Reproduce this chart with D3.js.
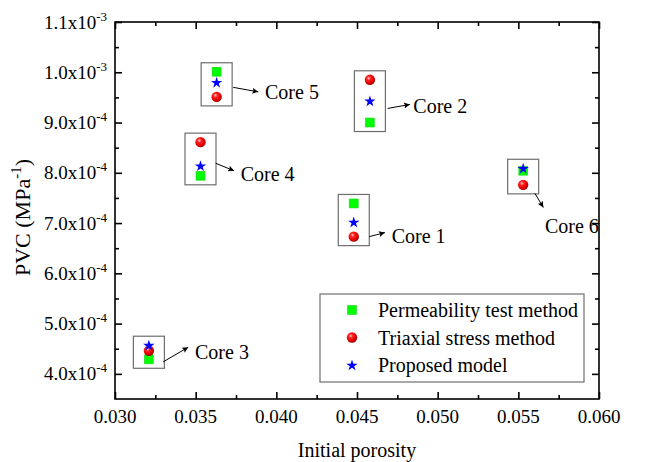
<!DOCTYPE html>
<html>
<head>
<meta charset="utf-8">
<script src="https://cdn.jsdelivr.net/npm/d3@7"></script>
<style>
  body { margin: 0; background: #fff; }
  svg { display: block; }
  svg text { font-family: 'Liberation Serif', 'DejaVu Serif', 'Times New Roman', serif; fill: #000; }
</style>
</head>
<body>
<div id="chart"></div>
<script>
// values
let cores = ["Core 1", "Core 2", "Core 3", "Core 4", "Core 5", "Core 6"];
let porosity = [0.0448, 0.0458, 0.0321, 0.0353, 0.0363, 0.0553];
let permeabilityPVC = [7.39e-4, 9.00e-4, 4.29e-4, 7.94e-4, 1.001e-3, 8.04e-4];
let triaxialPVC = [6.73e-4, 9.85e-4, 4.46e-4, 8.61e-4, 9.51e-4, 7.76e-4];
let modelPVC = [7.02e-4, 9.43e-4, 4.57e-4, 8.14e-4, 9.80e-4, 8.09e-4];

// arrow start / end and label anchor, in data units
let arrowFrom = [[0.04576, 6.73e-4], [0.04690, 9.28e-4], [0.03299, 4.24e-4], [0.03624, 8.19e-4], [0.03733, 9.70e-4], [0.05603, 7.59e-4]];
let arrowTo = [[0.04673, 6.81e-4], [0.04828, 9.36e-4], [0.03454, 4.53e-4], [0.03738, 8.04e-4], [0.03888, 9.61e-4], [0.05655, 7.31e-4]];
let labelAt = [[0.04715, 6.75e-4], [0.04849, 9.32e-4], [0.03496, 4.44e-4], [0.03779, 7.98e-4], [0.03930, 9.61e-4], [0.05665, 6.94e-4]];

let seriesNames = ["Permeability test method", "Triaxial stress method", "Proposed model"];
let xTicks = [0.030, 0.035, 0.040, 0.045, 0.050, 0.055, 0.060];
let xMinor = [0.0325, 0.0375, 0.0425, 0.0475, 0.0525, 0.0575];
let yTicks = [4e-4, 5e-4, 6e-4, 7e-4, 8e-4, 9e-4, 1.0e-3, 1.1e-3];
let yMinor = [4.5e-4, 5.5e-4, 6.5e-4, 7.5e-4, 8.5e-4, 9.5e-4, 1.05e-3];

let width = 652, height = 462;
let margin = { top: 22, right: 53, bottom: 63, left: 115 };
let serif = "'Liberation Serif', 'DejaVu Serif', 'Times New Roman', serif";

let svg = d3.select("#chart").append("svg")
	.attr("width", width)
	.attr("height", height)
	.attr("font-family", serif);

let defs = svg.append("defs");
let grad = defs.append("radialGradient")
	.attr("id", "ball")
	.attr("cx", "38%").attr("cy", "35%").attr("r", "65%");
grad.append("stop").attr("offset", "0%").attr("stop-color", "#ffd0d0");
grad.append("stop").attr("offset", "30%").attr("stop-color", "#ff2020");
grad.append("stop").attr("offset", "75%").attr("stop-color", "#e00000");
grad.append("stop").attr("offset", "100%").attr("stop-color", "#a00000");

defs.append("marker")
	.attr("id", "arrow")
	.attr("viewBox", "0 0 10 10")
	.attr("refX", 10).attr("refY", 5)
	.attr("markerWidth", 9).attr("markerHeight", 6)
	.attr("markerUnits", "userSpaceOnUse")
	.attr("orient", "auto")
	.append("path")
	.attr("d", "M0,0L10,5L0,10L2,5Z")
	.attr("fill", "#000");

let x = d3.scaleLinear()
	.domain([0.030, 0.060])
	.range([margin.left, width - margin.right]);

let y = d3.scaleLinear()
	.domain([3.5e-4, 1.1e-3])
	.range([height - margin.bottom, margin.top]);

let x0 = x.range()[0], x1 = x.range()[1];
let y0 = y.range()[0], y1 = y.range()[1];

// ticks on all four sides, pointing inward
function ticks(axis, pos, vals, size) {
	svg.append("g")
		.attr("transform", pos)
		.call(axis.tickValues(vals).tickSize(size).tickSizeOuter(0).tickFormat(""))
		.call(g => g.select(".domain").remove())
		.call(g => g.selectAll("line").attr("stroke", "#000").attr("stroke-width", 1.6));
}
ticks(d3.axisBottom(x), "translate(0," + y0 + ")", xTicks, -7);
ticks(d3.axisBottom(x), "translate(0," + y0 + ")", xMinor, -4);
ticks(d3.axisTop(x), "translate(0," + y1 + ")", xTicks, -7);
ticks(d3.axisTop(x), "translate(0," + y1 + ")", xMinor, -4);
ticks(d3.axisLeft(y), "translate(" + x0 + ",0)", yTicks, -7);
ticks(d3.axisLeft(y), "translate(" + x0 + ",0)", yMinor, -4);
ticks(d3.axisRight(y), "translate(" + x1 + ",0)", yTicks, -7);
ticks(d3.axisRight(y), "translate(" + x1 + ",0)", yMinor, -4);

svg.append("rect")
	.attr("x", x0).attr("y", y1)
	.attr("width", x1 - x0).attr("height", y0 - y1)
	.attr("fill", "none")
	.attr("stroke", "#000")
	.attr("stroke-width", 1.6);

// x tick labels
svg.append("g").selectAll("text")
	.data(xTicks)
	.enter().append("text")
	.attr("x", d => x(d))
	.attr("y", y0 + 24)
	.attr("text-anchor", "middle")
	.attr("font-size", 19)
	.text(d => d3.format(".3f")(d));

// y tick labels like 1.0x10^-3
let yl = svg.append("g").selectAll("text")
	.data(yTicks)
	.enter().append("text")
	.attr("x", x0 - 8)
	.attr("y", d => y(d) + 6.5)
	.attr("text-anchor", "end")
	.attr("font-size", 19);
yl.append("tspan").text(d => {
	let e = Math.floor(Math.log10(d) + 1e-9);
	return (d / Math.pow(10, e)).toFixed(1) + "x10";
});
yl.append("tspan")
	.attr("font-size", 13)
	.attr("dy", -8)
	.text(d => String(Math.floor(Math.log10(d) + 1e-9)));

// axis titles
svg.append("text")
	.attr("x", (x0 + x1) / 2)
	.attr("y", height - 5)
	.attr("text-anchor", "middle")
	.attr("font-size", 20)
	.text("Initial porosity");

let yt = svg.append("text")
	.attr("transform", "translate(30," + ((y0 + y1) / 2 + 7) + ") rotate(-90)")
	.attr("text-anchor", "middle")
	.attr("font-size", 22);
yt.append("tspan").text("PVC (MPa");
yt.append("tspan").attr("font-size", 15).attr("dy", -9).text("-1");
yt.append("tspan").attr("dy", 9).text(")");

// boxes around each core
let pad = 9;
let boxTop = cores.map((d, i) => y(Math.max(permeabilityPVC[i], triaxialPVC[i], modelPVC[i])));
let boxBot = cores.map((d, i) => y(Math.min(permeabilityPVC[i], triaxialPVC[i], modelPVC[i])));
svg.append("g").selectAll("rect")
	.data(cores)
	.enter().append("rect")
	.attr("x", (d, i) => x(porosity[i]) - 15.5)
	.attr("y", (d, i) => boxTop[i] - pad)
	.attr("width", 31)
	.attr("height", (d, i) => boxBot[i] - boxTop[i] + 2 * pad)
	.attr("fill", "none")
	.attr("stroke", "#6e6e6e")
	.attr("stroke-width", 1.2);

// arrows and labels
svg.append("g").selectAll("line")
	.data(cores)
	.enter().append("line")
	.attr("x1", (d, i) => x(arrowFrom[i][0]))
	.attr("y1", (d, i) => y(arrowFrom[i][1]))
	.attr("x2", (d, i) => x(arrowTo[i][0]))
	.attr("y2", (d, i) => y(arrowTo[i][1]))
	.attr("stroke", "#000")
	.attr("stroke-width", 1)
	.attr("marker-end", "url(#arrow)");

svg.append("g").selectAll("text")
	.data(cores)
	.enter().append("text")
	.attr("x", (d, i) => x(labelAt[i][0]))
	.attr("y", (d, i) => y(labelAt[i][1]) + 7)
	.attr("font-size", 20)
	.text(d => d);

// markers
let square = d3.symbol().type(d3.symbolSquare).size(78);
let star = d3.symbol().type(d3.symbolStar).size(40);

function drawSquare(g, cx, cy) {
	g.append("path").attr("d", square())
		.attr("transform", "translate(" + cx + "," + cy + ")")
		.attr("fill", "#00ff00")
		.attr("stroke", "#00d000").attr("stroke-width", 0.6);
}
function drawBall(g, cx, cy) {
	g.append("circle").attr("cx", cx).attr("cy", cy).attr("r", 5.2)
		.attr("fill", "url(#ball)");
}
function drawStar(g, cx, cy) {
	g.append("path").attr("d", star())
		.attr("transform", "translate(" + cx + "," + (cy + 0.5) + ")")
		.attr("fill", "#0000ff");
}

let pts = svg.append("g");
porosity.forEach((p, i) => drawSquare(pts, x(p), y(permeabilityPVC[i])));
porosity.forEach((p, i) => drawBall(pts, x(p), y(triaxialPVC[i])));
porosity.forEach((p, i) => drawStar(pts, x(p), y(modelPVC[i])));

// legend
let lg = svg.append("g");
lg.append("rect")
	.attr("x", 320).attr("y", 294)
	.attr("width", 264).attr("height", 88)
	.attr("fill", "#fff")
	.attr("stroke", "#6e6e6e")
	.attr("stroke-width", 1.2);
let drawers = [drawSquare, drawBall, drawStar];
seriesNames.forEach((s, i) => {
	let cy = 310 + i * 27.5;
	drawers[i](lg, 352, cy);
	lg.append("text")
		.attr("x", 378)
		.attr("y", cy + 7)
		.attr("font-size", 20)
		.text(s);
});
</script>
</body>
</html>
